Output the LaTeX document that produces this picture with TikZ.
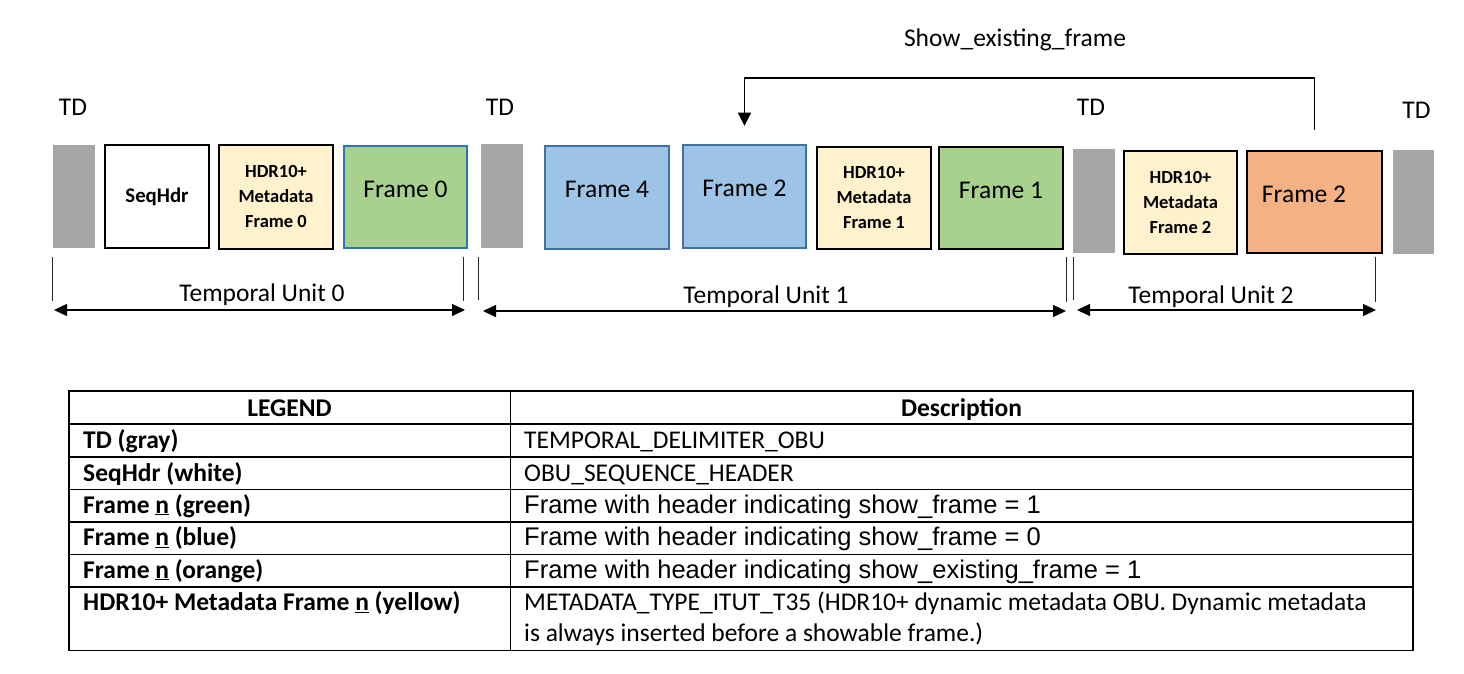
\documentclass[tikz,border=0pt]{standalone}
\usepackage{fontspec}
\setmainfont{Carlito}
\newfontfamily\arialf{Liberation Sans}
\usetikzlibrary{arrows.meta,calc}
\definecolor{tdgray}{HTML}{A6A6A6}
\definecolor{cream}{HTML}{FFF2CC}
\definecolor{fgreen}{HTML}{A9D18E}
\definecolor{fblue}{HTML}{9DC3E6}
\definecolor{bluedge}{HTML}{41719C}
\definecolor{fzeroedge}{HTML}{2E75B6}
\definecolor{forange}{HTML}{F4B183}
\begin{document}
\begin{tikzpicture}[x=1pt,y=-1pt,
  font=\fontsize{25.5}{30}\selectfont,
  tdbox/.style={fill=tdgray, inner sep=0pt},
  fbox/.style={draw, line width=2pt, inner sep=0pt, text height=16pt, text depth=16pt},
  seqbox/.style={draw, line width=2pt, fill=white, inner sep=0pt, font=\fontsize{20.8}{25}\selectfont\bfseries},
  hdrbox/.style={draw, line width=2pt, fill=cream, inner sep=0pt, align=center, font=\fontsize{18.5}{25}\selectfont\bfseries},
  greenbox/.style={fbox, fill=fgreen},
  bluebox/.style={fbox, fill=fblue, draw=bluedge, line width=2.5pt},
  orangebox/.style={fbox, fill=forange},
  lbl/.style={inner sep=0pt, anchor=base},
  tick/.style={draw=black!85, line width=1pt},
  tu/.style={line width=1.3pt, {Triangle[length=13pt,width=12pt]}-{Triangle[length=13pt,width=12pt]}},
  sef/.style={line width=1.3pt, -{Triangle[length=13pt,width=13pt]}},
  tline/.style={line width=1.3pt},
  lt/.style={anchor=base west, inner sep=0pt, font=\fontsize{25.5}{30}\selectfont\bfseries},
  dt/.style={anchor=base west, inner sep=0pt},
  da/.style={anchor=base west, inner sep=0pt, font=\fontsize{25.5}{30}\selectfont\arialf},
  hd/.style={anchor=base, inner sep=0pt, font=\fontsize{25.5}{30}\selectfont\bfseries}
]
\useasboundingbox[fill=white] (0,0) rectangle (1464,674);

% --- TD labels
\node[lbl] (tdl1) at (73,116) {TD};
\node[lbl] (tdl2) at (500,116) {TD};
\node[lbl] (tdl3) at (1091,116) {TD};
\node[lbl] (tdl4) at (1416.5,119) {TD};
\node[lbl] (sel) at (1015,47) {Show\_existing\_frame};

% --- boxes
\node[tdbox, minimum width=42pt, minimum height=103pt] (td1) at (74,196.5) {};
\node[seqbox, minimum width=104pt, minimum height=103pt] (seq) at (157,196.5) {SeqHdr};
\node[hdrbox, minimum width=114pt, minimum height=104pt] (hdr0) at (276,197) {HDR10+\\Metadata\\Frame 0};
\node[greenbox, draw=fzeroedge, minimum width=123pt, minimum height=102pt] (f0) at (405.5,197) {Frame 0};
\node[tdbox, minimum width=42pt, minimum height=104pt] (td2) at (502,196) {};
\node[bluebox, minimum width=124pt, minimum height=103pt] (f4) at (607,197.5) {Frame 4};
\node[bluebox, minimum width=123pt, minimum height=103pt] (f2b) at (744.5,196.5) {Frame 2};
\node[hdrbox, minimum width=114pt, minimum height=102pt] (hdr1) at (874,198) {HDR10+\\Metadata\\Frame 1};
\node[greenbox, minimum width=124pt, minimum height=102pt] (f1) at (1001,198) {Frame 1};
\node[tdbox, minimum width=42pt, minimum height=104pt] (td3) at (1094,201) {};
\node[hdrbox, minimum width=113pt, minimum height=103pt] (hdr2) at (1180.5,202.5) {HDR10+\\Metadata\\Frame 2};
\node[orangebox, minimum width=135pt, minimum height=102pt] (f2o) at (1314.5,202) {\hspace*{-21pt}Frame 2};
\node[tdbox, minimum width=41pt, minimum height=104pt] (td4) at (1413.5,202) {};

% --- show existing frame connector
\draw[sef] ([yshift=20pt]f2o.north) -- ++(0,-52) -| ([yshift=18pt]f2b.north);

% --- temporal unit ticks
\coordinate (a0t) at (52,257);   \coordinate (a0b) at (52,301);
\coordinate (b0t) at (463,257);  \coordinate (b0b) at (463,301);
\coordinate (a1t) at (478,257);  \coordinate (a1b) at (478,300);
\coordinate (b1t) at (1066,257); \coordinate (b1b) at (1066,302);
\coordinate (a2t) at (1073,257); \coordinate (a2b) at (1073,300);
\coordinate (b2t) at (1375,257); \coordinate (b2b) at (1375,302);
\foreach \p in {a0,b0,a1,b1,a2,b2} \draw[tick] (\p t) -- (\p b);

\coordinate (u0l) at (54,310);  \coordinate (u0r) at (465,310);
\coordinate (u1l) at (483,311); \coordinate (u1r) at (1066,311);
\coordinate (u2l) at (1077,310); \coordinate (u2r) at (1376,310);
\draw[tu] (u0l) -- (u0r);
\draw[tu] (u1l) -- (u1r);
\draw[tu] (u2l) -- (u2r);
\node[lbl] (tu0) at (262,301.5) {Temporal Unit 0};
\node[lbl] (tu1) at (766,303) {Temporal Unit 1};
\node[lbl] (tu2) at (1211,303) {Temporal Unit 2};

% --- legend table
\draw[tline] (69,391) rectangle (1413,650.5);
\draw[tline] (510.5,391) -- (510.5,650.5);
\foreach \yy in {424,457,489.5,522,554.5,587} \draw[tline] (69,\yy) -- (1413,\yy);

\node[hd] (hleg) at (289.5,416.5) {LEGEND};
\node[hd] (hdes) at (961.5,416.5) {Description};

\node[lt] (l1) at (83,448.5) {TD (gray)};
\node[lt] (l2) at (83,481) {SeqHdr (white)};
\node[lt] (l3) at (83,513) {Frame \underline{n} (green)};
\node[lt] (l4) at (83,545.5) {Frame \underline{n} (blue)};
\node[lt] (l5) at (83,578) {Frame \underline{n} (orange)};
\node[lt] (l6) at (83,610.5) {HDR10+ Metadata Frame \underline{n} (yellow)};

\node[dt] (d1) at (524,448.5) {TEMPORAL\_DELIMITER\_OBU};
\node[dt] (d2) at (524,481) {OBU\_SEQUENCE\_HEADER};
\node[da] (d3) at (524,513) {Frame with header indicating show\_frame = 1};
\node[da] (d4) at (524,545.5) {Frame with header indicating show\_frame = 0};
\node[da] (d5) at (524,578) {Frame with header indicating show\_existing\_frame = 1};
\node[dt] (d6a) at (524,610.5) {METADATA\_TYPE\_ITUT\_T35 (HDR10+ dynamic metadata OBU. Dynamic metadata};
\node[dt] (d6b) at (524,641.5) {is always inserted before a showable frame.)};
\end{tikzpicture}
\end{document}
